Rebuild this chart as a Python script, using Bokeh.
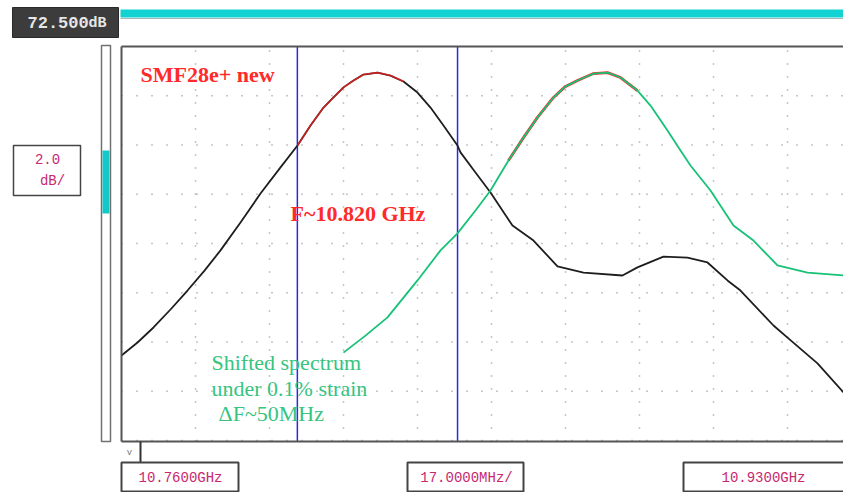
from bokeh.plotting import figure
from bokeh.models import Range1d, Label
from bokeh.embed import file_html
from bokeh.resources import INLINE

# ---- data (frequency in GHz, level in dB) ----
black_freq = [10.76000, 10.76368, 10.76735, 10.77126, 10.77516, 10.77907, 10.78274, 10.78734,
              10.79193, 10.79653, 10.80043, 10.80342, 10.80641, 10.80870, 10.81100, 10.81330,
              10.81559, 10.81881, 10.82180, 10.82478, 10.82800, 10.83099, 10.83397, 10.83719,
              10.83788, 10.84132, 10.84477, 10.84982, 10.85465, 10.86016, 10.86613, 10.87509,
              10.87853, 10.88451, 10.89002, 10.89462, 10.89921, 10.90220, 10.90978, 10.91300,
              10.91989, 10.92587]
black_db = [59.95, 60.48, 61.09, 61.82, 62.59, 63.40, 64.22, 65.35,
            66.53, 67.59, 68.48, 69.29, 70.02, 70.43, 70.84, 71.12,
            71.36, 71.44, 71.32, 71.08, 70.63, 70.02, 69.29, 68.48,
            68.20, 67.38, 66.57, 65.23, 64.62, 63.57, 63.32, 63.20,
            63.53, 63.97, 63.93, 63.73, 63.00, 62.59, 61.17, 60.68,
            59.63, 58.45]

green_freq = [10.81100, 10.81605, 10.82111, 10.82800, 10.83328, 10.83719, 10.84132, 10.84477,
              10.84890, 10.85235, 10.85557, 10.85924, 10.86200, 10.86476, 10.86843, 10.87165,
              10.87464, 10.87854, 10.88153, 10.88543, 10.88842, 10.89071, 10.89531, 10.90059,
              10.90519, 10.91070, 10.91760, 10.92587]
green_db = [60.07, 60.76, 61.50, 63.00, 64.22, 64.91, 65.84, 66.65,
            67.87, 68.80, 69.62, 70.43, 70.88, 71.12, 71.40, 71.44,
            71.24, 70.71, 70.10, 69.09, 68.28, 67.67, 66.65, 65.23,
            64.62, 63.61, 63.32, 63.20]

red1_freq = [10.80043, 10.80342, 10.80641, 10.80870, 10.81100, 10.81330, 10.81559, 10.81881,
             10.82180, 10.82478]
red1_db = [68.48, 69.29, 70.02, 70.43, 70.84, 71.12, 71.36, 71.44, 71.32, 71.08]
red2_freq = [10.84890, 10.85235, 10.85557, 10.85924, 10.86200, 10.86476, 10.86843, 10.87165,
             10.87464, 10.87854]
red2_db = [67.87, 68.80, 69.62, 70.43, 70.88, 71.12, 71.40, 71.44, 71.24, 70.71]

marker_freqs = [10.8004, 10.8372]

x_ticks = [10.760, 10.777, 10.794, 10.811, 10.828, 10.845, 10.862, 10.879, 10.896, 10.913, 10.930]
y_ticks = [56.5, 58.5, 60.5, 62.5, 64.5, 66.5, 68.5, 70.5, 72.5]

ref_text = ["72.500", "dB"]
scale_text = ["2.0", "dB/"]
bottom_texts = ["10.7600GHz", "17.0000MHz/", "10.9300GHz"]

MAG = "#c8286e"
MONO = "Liberation Mono"
SERIF = "Liberation Serif"

# ---- screen layout (page pixels) ----
W, H = 843, 492
PL, PT, PB = 121, 46, 441           # plot frame left / top / bottom
DIV_PX_X, DIV_PX_Y = 74.0, 49.25   # pixels per division
F0, FDIV = 10.760, 0.017            # start freq, GHz per division
DB_TOP, DB_DIV = 72.5, 2.0          # reference level, dB per division

kx = FDIV / DIV_PX_X
ky = DB_DIV / DIV_PX_Y
f_start = F0 - PL * kx
f_end = F0 + (W - PL) * kx
db_hi = DB_TOP + PT * ky
db_lo = DB_TOP - (H - PT) * ky
db_bottom = DB_TOP - (PB - PT) * ky

p = figure(width=W, height=H, output_backend="svg", toolbar_location=None,
           x_range=Range1d(0, W), y_range=Range1d(H, 0),
           x_axis_location=None, y_axis_location=None,
           min_border=0, min_border_left=0, min_border_right=0,
           min_border_top=0, min_border_bottom=0)
p.grid.visible = False
p.outline_line_color = None
p.background_fill_color = "white"
p.border_fill_color = "white"
p.extra_x_ranges = {"freq": Range1d(f_start, f_end)}
p.extra_y_ranges = {"db": Range1d(db_lo, db_hi)}

D = dict(x_range_name="freq", y_range_name="db")

# dotted graticule
gx = [t for t in x_ticks if t > F0]
p.segment(x0=gx, y0=[db_bottom] * len(gx), x1=gx, y1=[DB_TOP] * len(gx),
          line_color="#8c8c8c", line_width=1.5, line_dash="1 12", **D)
gy = [t for t in y_ticks if db_bottom < t < DB_TOP]
p.segment(x0=[F0] * len(gy), y0=gy, x1=[f_end] * len(gy), y1=gy,
          line_color="#8c8c8c", line_width=1.5, line_dash="1 14", **D)

# marker lines
p.segment(x0=marker_freqs, y0=[db_bottom] * 2, x1=marker_freqs, y1=[DB_TOP] * 2,
          line_color="#2a2ae6", line_width=1.5, **D)

# traces
p.line(red2_freq, red2_db, line_color="#ff2020", line_width=2.8, line_join="round", **D)
p.line(black_freq, black_db, line_color="#1e1e1e", line_width=1.8, line_join="round", **D)
p.line(red1_freq, red1_db, line_color="#ff2020", line_width=1.6, line_alpha=0.75,
       line_join="round", **D)
p.line(green_freq, green_db, line_color="#17c277", line_width=1.8, line_join="round", **D)

# frame border (left, top, bottom)
p.multi_line(xs=[[PL, PL], [PL, W], [PL, W]], ys=[[PT, PB], [PT, PT], [PB, PB]],
             line_color="#555555", line_width=2)

# instrument decorations
p.quad(left=[12], right=[118], top=[7], bottom=[37], fill_color="#3c3c3c", line_color="#2a2a2a")
p.quad(left=[120], right=[W + 5], top=[9], bottom=[17], fill_color="#12d2d2", line_color=None)
p.segment(x0=[120], y0=[18], x1=[W], y1=[18], line_color="#a8b8b8", line_width=1)
p.quad(left=[101], right=[110], top=[45], bottom=[PB], fill_color="white", line_color="#707070",
       line_width=1.5)
p.quad(left=[102], right=[109], top=[150], bottom=[213], fill_color="#12c8c8", line_color=None)
p.quad(left=[13], right=[80], top=[145], bottom=[195], fill_color="white", line_color="#444444",
       line_width=1.5)
p.segment(x0=[140], y0=[PB], x1=[140], y1=[462], line_color="#333333", line_width=2)
p.quad(left=[121, 407, 683], right=[238, 523, W + 10], top=[462] * 3, bottom=[491] * 3,
       fill_color="white", line_color="#444444", line_width=2)

def lab(x, y, t, font, size, color, align="left", style="normal"):
    p.add_layout(Label(x=x, y=y, text=t, text_font=font, text_font_size=size,
                       text_color=color, text_align=align, text_baseline="middle",
                       text_font_style=style))

lab(27, 22, ref_text[0], MONO, "17px", "#e6e6e6", style="bold")
lab(88, 23, ref_text[1], MONO, "15px", "#e6e6e6", style="bold")
lab(47, 158, scale_text[0], MONO, "14px", MAG, "center")
lab(52, 180, scale_text[1], MONO, "14px", MAG, "center")
lab(129, 452, "v", MONO, "9px", "#777777", "center")
for t, cx in zip(bottom_texts, [180, 466, 763]):
    lab(cx, 477, t, MONO, "14px", MAG, "center")

# annotations inside the plot
lab(140, 74, "SMF28e+ new", SERIF, "22px", "#ff2a2a", style="bold")
lab(290, 213, "F~10.820 GHz", SERIF, "22px", "#ff2a2a", style="bold")
for t, xx, yy in [("Shifted spectrum", 211, 362), ("under 0.1% strain", 211, 388),
                  ("\u0394F~50MHz", 218, 413)]:
    lab(xx, yy, t, SERIF, "22px", "#36c47f")

open("out.html", "w").write(file_html(p, INLINE))
